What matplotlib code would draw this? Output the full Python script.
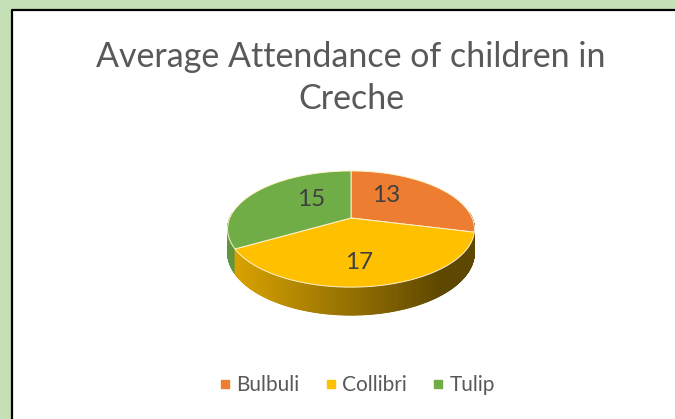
import numpy as np
from matplotlib import pyplot as plt
from matplotlib.patches import Polygon, Rectangle
from matplotlib.lines import Line2D
import matplotlib.colors as mcolors

# data
labels = ['Bulbuli', 'Collibri', 'Tulip']
values = [13, 17, 15]
colors = ['#ED7D31', '#FFC000', '#70AD47']
title = 'Average Attendance of children in\nCreche'

plt.rcParams['font.family'] = ['Lato', 'DejaVu Sans']

W, H = 675, 419
fig = plt.figure(figsize=(W / 100, H / 100), dpi=100, facecolor='#C5E0B4')
ax = fig.add_axes([0, 0, 1, 1])
ax.set_xlim(0, W)
ax.set_ylim(H, 0)
ax.axis('off')

# white chart box with black top/left border
ax.add_patch(Rectangle((12, 10), W - 12, H - 10, facecolor='white', edgecolor='none', zorder=0))
ax.plot([12, 12, W], [H, 10.5, 10.5], color='black', lw=1.6, zorder=1, solid_capstyle='butt')

# 3d pie geometry (pixel space)
cx, cy = 351, 218
R, Ry, k, h = 121.2, 56.0, 0.19, 22.7


def proj(x, y, z=0.0):
    s = 1.0 / (1.0 + k * y)
    return cx + R * x * s, cy - Ry * y * s + z * s


def shade(col, f):
    r, g, b = mcolors.to_rgb(col)
    return (r * f, g * f, b * f)


total = sum(values)
start = np.pi / 2
bounds = []
a = start
for v in values:
    b = a - 2 * np.pi * v / total
    bounds.append((a, b))
    a = b

# side walls, back to front
quads = []
for (a0, a1), col in zip(bounds, colors):
    ts = np.arange(a0, a1, -np.radians(0.5))
    ts = np.append(ts, a1)
    for t0, t1 in zip(ts[:-1], ts[1:]):
        tm = 0.5 * (t0 + t1)
        if np.sin(tm) > 0.1:
            continue
        p0 = proj(np.cos(t0), np.sin(t0))
        p1 = proj(np.cos(t1), np.sin(t1))
        p2 = proj(np.cos(t1), np.sin(t1), h)
        p3 = proj(np.cos(t0), np.sin(t0), h)
        xm = proj(np.cos(tm), np.sin(tm))[0]
        f = np.interp(xm, [230, 440, 480], [0.86, 0.37, 0.37])
        quads.append((-np.sin(tm), [p0, p1, p2, p3], shade(col, f)))
quads.sort(key=lambda q: q[0])
for _, pts, c in quads:
    ax.add_patch(Polygon(pts, closed=True, facecolor=c, edgecolor=c, lw=0.6, zorder=2))

# top faces
for (a0, a1), col in zip(bounds, colors):
    ts = np.linspace(a0, a1, 200)
    pts = [proj(0, 0)] + [proj(np.cos(t), np.sin(t)) for t in ts]
    ax.add_patch(Polygon(pts, closed=True, facecolor=col, edgecolor='#FFF2CC', lw=0.7, zorder=3))

# data labels
for (a0, a1), v in zip(bounds, values):
    m = 0.5 * (a0 + a1)
    x, y = proj(0.4 * np.cos(m), 0.7 * np.sin(m))
    ax.text(x, y, str(v), ha='center', va='center', fontsize=17.5, color='#404040', zorder=4)

# title
ax.text(351, 78, title, ha='center', va='center', fontsize=24.5, color='#595959',
        linespacing=1.4, zorder=4)

# legend
handles = [Line2D([], [], marker='s', ls='none', markersize=6, color=c) for c in colors]
ax.legend(handles, labels, loc='center', bbox_to_anchor=(356 / W, 1 - 385 / H), ncol=3,
          frameon=False, fontsize=15, labelcolor='#595959', handletextpad=0.15,
          columnspacing=1.1, handlelength=0.8)

fig.savefig('out.png', dpi=100, facecolor=fig.get_facecolor())
